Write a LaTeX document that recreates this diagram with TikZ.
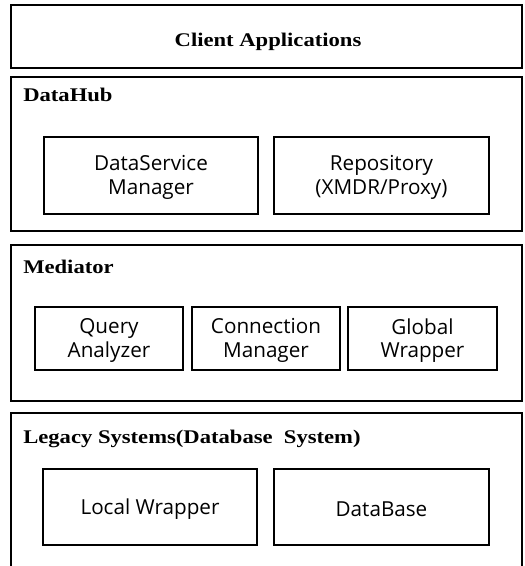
\documentclass[tikz,border=0pt]{standalone}
\usepackage{fontspec}
\usetikzlibrary{fit}
\newfontfamily\ttlfont[FakeStretch=1.17]{Liberation Serif}
\newfontfamily\cmpfont{Open Sans}
\begin{document}
\begin{tikzpicture}[x=0.75pt,y=-0.75pt,
  box/.style={draw, line width=1.3pt, inner sep=0pt},
  layer/.style={box},
  comp/.style={box},
  ctext/.style={align=center, inner sep=0pt, yshift=-1.5pt, font=\cmpfont\fontsize{15.5}{17.5}\selectfont},
  ttl/.style={inner sep=0pt, font=\ttlfont\bfseries\fontsize{14.5}{16}\selectfont}]
\useasboundingbox (0,0) rectangle (524,566);
% layers
\node[layer, fit={(11,5) (522,68)}] (client) {};
\node[layer, fit={(11,77) (522,231)}] (datahub) {};
\node[layer, fit={(11,245) (522,401)}] (mediator) {};
\node[inner sep=0pt, fit={(11,413) (522,567)}] (legacy) {};
\draw[line width=1.3pt] (legacy.south west) -- (legacy.north west) -- (legacy.north east) -- (legacy.south east);
% titles
\node[ttl, anchor=base] (clientT) at (268,47) {Client Applications};
\node[ttl, anchor=base west] (datahubT) at (23,102) {DataHub};
\node[ttl, anchor=base west] (mediatorT) at (23,273) {Mediator};
\node[ttl, anchor=base west] (legacyT) at (23,443) {Legacy Systems(Database\ \ System)};
% components
\node[comp, fit={(44,137) (258,214)}] (dsm) {};
\node[ctext] at (dsm.center) (dsmT) {DataService\\Manager};
\node[comp, fit={(274,137) (489,214)}] (repo) {};
\node[ctext] at (repo.center) (repoT) {Repository\\(XMDR/Proxy)};
\node[comp, fit={(35,307) (183,370)}] (query) {};
\node[ctext] at (query.center) (queryT) {Query\\Analyzer};
\node[comp, fit={(192,307) (340,370)}] (conn) {};
\node[ctext] at (conn.center) (connT) {Connection\\Manager};
\node[comp, fit={(348,307) (497,370)}] (global) {};
\node[ctext] at (global.center) (globalT) {Global\\Wrapper};
\node[comp, fit={(43,469) (257,545)}] (local) {};
\node[ctext] at (local.center) (localT) {Local Wrapper};
\node[comp, fit={(274,469) (489,545)}] (db) {};
\node[ctext] at (db.center) (dbT) {DataBase};
\end{tikzpicture}
\end{document}
